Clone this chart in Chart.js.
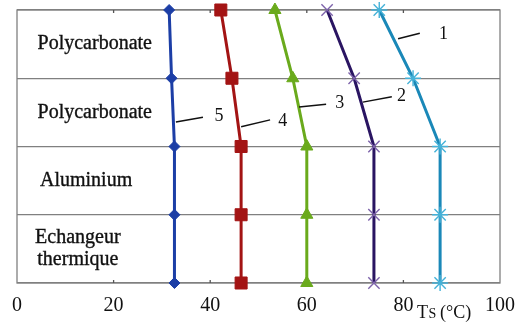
<!DOCTYPE html>
<html>
<head>
<meta charset="utf-8">
<script src="https://cdn.jsdelivr.net/npm/chart.js@4/dist/chart.umd.min.js"></script>
<style>
  html, body { margin: 0; padding: 0; background: #fff; }
  #wrap { width: 515px; height: 325px; }
</style>
</head>
<body>
<div id="wrap"><canvas id="chart" width="515" height="325"></canvas></div>
<script>
// levels (interfaces between layers), top = 0
const levels = [0, 1, 2, 3, 4];
const ts1 = [75.0, 82.0, 87.6, 87.6, 87.6];
const ts2 = [64.2, 69.8, 73.9, 73.9, 73.9];
const ts3 = [53.4, 57.1, 60.0, 60.0, 60.0];
const ts4 = [42.2, 44.5, 46.4, 46.4, 46.4];
const ts5 = [31.5, 32.0, 32.6, 32.6, 32.6];
const xTicks = [0, 20, 40, 60, 80, 100];

const layerNames = [['Polycarbonate'], ['Polycarbonate'], ['Aluminium'], ['Echangeur', 'thermique']];
const layerTextX = [16.1, 16.1, 14.3, 12.6];

// curve labels: number, leader start, leader end, text position (data units)
const curveLabels = ['1', '2', '3', '4', '5'];
const leaderFrom = [[78.9, 0.42], [71.6, 1.35], [58.4, 1.42], [46.4, 1.71], [32.9, 1.64]];
const leaderTo = [[83.4, 0.34], [77.6, 1.27], [64.0, 1.38], [52.4, 1.61], [38.5, 1.57]];
const labelAt = [[88.3, 0.35], [79.6, 1.26], [66.8, 1.37], [55.0, 1.63], [41.8, 1.55]];

const pts = vals => vals.map((v, i) => ({ x: v, y: levels[i] }));

const serif = '"Liberation Serif", serif';

const overlay = {
  id: 'overlay',
  beforeDatasetsDraw(chart) {
    const { ctx, chartArea: a, scales: { x } } = chart;
    ctx.save();
    // frame
    ctx.strokeStyle = '#808080';
    ctx.lineWidth = 1.3;
    ctx.strokeRect(a.left, a.top, a.right - a.left, a.bottom - a.top);
    // small inside ticks
    ctx.beginPath();
    [20, 40, 60, 80].forEach(v => {
      const px = x.getPixelForValue(v);
      ctx.moveTo(px, a.top); ctx.lineTo(px, a.top + 3);
      ctx.moveTo(px, a.bottom); ctx.lineTo(px, a.bottom - 3);
    });
    ctx.strokeStyle = '#555';
    ctx.stroke();
    ctx.restore();
  },
  afterDatasetsDraw(chart) {
    const { ctx, chartArea: a, scales: { x, y } } = chart;
    ctx.save();
    // layer names
    ctx.fillStyle = '#111';
    ctx.strokeStyle = '#111';
    ctx.lineWidth = 0.35;
    ctx.font = '20px ' + serif;
    ctx.textAlign = 'center';
    ctx.textBaseline = 'middle';
    layerNames.forEach((lines, i) => {
      const cx = x.getPixelForValue(layerTextX[i]);
      const cy = y.getPixelForValue(i + 0.5);
      const lh = 22;
      lines.forEach((t, k) => {
        const ty = cy + (k - (lines.length - 1) / 2) * lh;
        ctx.fillText(t, cx, ty);
        ctx.strokeText(t, cx, ty);
      });
    });

    // curve numbers with leaders
    ctx.lineWidth = 1.5;
    ctx.font = '18px ' + serif;
    curveLabels.forEach((t, i) => {
      ctx.beginPath();
      ctx.moveTo(x.getPixelForValue(leaderFrom[i][0]), y.getPixelForValue(leaderFrom[i][1]));
      ctx.lineTo(x.getPixelForValue(leaderTo[i][0]), y.getPixelForValue(leaderTo[i][1]));
      ctx.stroke();
      ctx.fillText(t, x.getPixelForValue(labelAt[i][0]), y.getPixelForValue(labelAt[i][1]));
    });

    // axis title
    ctx.font = '18px ' + serif;
    ctx.textAlign = 'left';
    ctx.fillText('T', x.getPixelForValue(82.8), a.bottom + 30);
    ctx.font = '14px ' + serif;
    ctx.fillText('S', x.getPixelForValue(85.2), a.bottom + 31);
    ctx.font = '18px ' + serif;
    ctx.fillText('(°C)', x.getPixelForValue(87.6), a.bottom + 30);
    ctx.restore();
  }
};

const mk = (label, vals, line, marker, style, r, bw) => ({
  label,
  data: pts(vals),
  showLine: true,
  clip: false,
  borderColor: line,
  borderWidth: 3,
  backgroundColor: marker,
  pointBorderColor: marker,
  pointBackgroundColor: marker,
  pointStyle: style,
  pointRadius: r,
  pointBorderWidth: bw,
  tension: 0
});

function draw() {
  new Chart(document.getElementById('chart'), {
    type: 'scatter',
    data: {
      datasets: [
        mk('1', ts1, '#1a88b8', '#45b2d8', 'star', 8, 1.4),
        mk('2', ts2, '#2a1562', '#7d63aa', 'crossRot', 8, 1.4),
        mk('3', ts3, '#6aaa1c', '#6aaa1c', 'triangle', 7, 1),
        mk('4', ts4, '#a31414', '#a31414', 'rect', 8.5, 1),
        mk('5', ts5, '#1c3ea6', '#1c3ea6', 'rectRot', 5.5, 1)
      ]
    },
    options: {
      responsive: false,
      animation: false,
      layout: { padding: { left: 17, right: 15, top: 10, bottom: 0 } },
      plugins: { legend: { display: false }, tooltip: { enabled: false } },
      scales: {
        x: {
          type: 'linear',
          min: 0,
          max: 100,
          afterBuildTicks: s => { s.ticks = xTicks.map(v => ({ value: v })); },
          afterFit: s => { s.height = 42; s.paddingLeft = 0; s.paddingRight = 0; },
          grid: { display: false },
          border: { display: false },
          ticks: { color: '#111', font: { family: serif, size: 20 }, padding: 3, maxRotation: 0 }
        },
        y: {
          type: 'linear',
          reverse: true,
          min: 0,
          max: 4,
          afterBuildTicks: s => { s.ticks = levels.map(v => ({ value: v })); },
          afterFit: s => { s.width = 0; s.paddingTop = 0; s.paddingBottom = 0; },
          grid: { color: '#808080', lineWidth: 1.3, drawTicks: false },
          border: { display: false },
          ticks: { display: false }
        }
      }
    },
    plugins: [overlay]
  });
}

Promise.all([
  document.fonts.load('20px "Liberation Serif"'),
  document.fonts.load('bold 20px "Liberation Serif"')
]).then(draw, draw);
</script>
</body>
</html>
